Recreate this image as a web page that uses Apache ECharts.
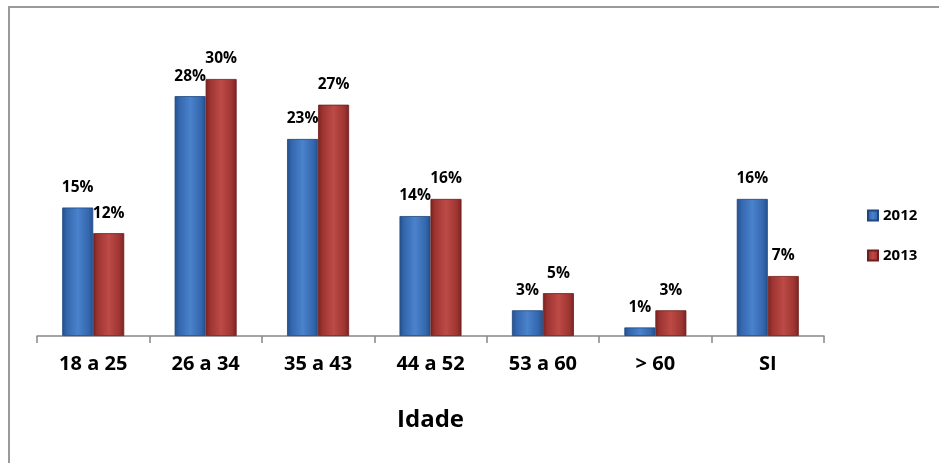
<!DOCTYPE html>
<html>
<head>
<meta charset="utf-8">
<script src="https://cdn.jsdelivr.net/npm/echarts@6/dist/echarts.min.js"></script>
<style>
html,body{margin:0;padding:0;background:#fff;}
#frame{position:absolute;left:8px;top:6px;width:960px;height:480px;border-left:2px solid #9a9a9a;border-top:2px solid #9a9a9a;box-sizing:border-box;}
#c{position:absolute;left:0;top:0;width:939px;height:463px;}
</style>
</head>
<body>
<div id="frame"></div>
<div id="c"></div>
<script>
const categories = ['18 a 25', '26 a 34', '35 a 43', '44 a 52', '53 a 60', '> 60', 'SI'];
const values2012 = [15, 28, 23, 14, 3, 1, 16];
const values2013 = [12, 30, 27, 16, 5, 3, 7];
const seriesNames = ['2012', '2013'];
const axisTitle = 'Idade';

const FONT = '"Open Sans", Lato, sans-serif';
function grad(dark, mid, light) {
  return new echarts.graphic.LinearGradient(0, 0, 1, 0, [
    {offset: 0, color: dark},
    {offset: 0.15, color: mid},
    {offset: 0.5, color: light},
    {offset: 0.85, color: mid},
    {offset: 1, color: dark}
  ]);
}
const blue = grad('#24508e', '#3467ad', '#4a82cc');
const red = grad('#7a2220', '#9e3532', '#bd4a46');

const chart = echarts.init(document.getElementById('c'));
chart.setOption({
  animation: false,
  grid: {left: 37, right: 115, top: 79, bottom: 127, containLabel: false},
  legend: {
    orient: 'vertical', left: 862, top: 203, itemGap: 25,
    itemWidth: 10, itemHeight: 10, icon: 'rect',
    textStyle: {fontFamily: FONT, fontWeight: 'bold', fontSize: 15, color: '#000'},
    data: seriesNames
  },
  xAxis: {
    type: 'category', data: categories,
    name: axisTitle, nameLocation: 'middle', nameGap: 72,
    nameTextStyle: {fontFamily: FONT, fontWeight: 'bold', fontSize: 24, color: '#000'},
    axisLine: {lineStyle: {color: '#888', width: 1.5}},
    axisTick: {show: true, length: 7, lineStyle: {color: '#888', width: 1.5}},
    axisLabel: {fontFamily: FONT, fontWeight: 'bold', fontSize: 20, color: '#000', margin: 18}
  },
  yAxis: {type: 'value', min: 0, max: 30, show: false, splitLine: {show: false}},
  series: [
    {
      name: seriesNames[0], type: 'bar', data: values2012,
      barWidth: 31, barGap: '0%',
      itemStyle: {color: blue, borderColor: '#1f4680', borderWidth: 0.8},
      label: {show: true, position: 'top', distance: 12, formatter: '{c}%',
        fontFamily: FONT, fontWeight: 'bold', fontSize: 15.5, color: '#000'}
    },
    {
      name: seriesNames[1], type: 'bar', data: values2013,
      barWidth: 31, barGap: '0%',
      itemStyle: {color: red, borderColor: '#6e1e1c', borderWidth: 0.8},
      label: {show: true, position: 'top', distance: 12, formatter: '{c}%',
        fontFamily: FONT, fontWeight: 'bold', fontSize: 15.5, color: '#000'}
    }
  ]
});
</script>
</body>
</html>
